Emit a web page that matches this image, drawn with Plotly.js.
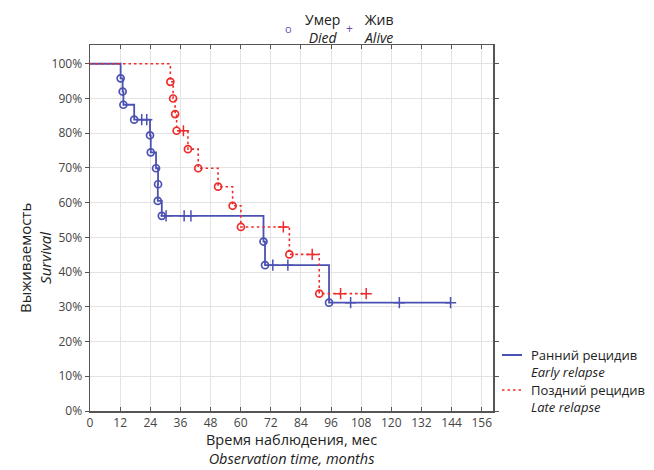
<!DOCTYPE html>
<html><head><meta charset="utf-8">
<script src="https://cdn.plot.ly/plotly-3.0.1.min.js"></script>
<style>html,body{margin:0;padding:0;background:#fff;}#plot{width:654px;height:470px;}</style>
</head><body><div id="plot"></div>
<script>
// Early relapse (blue): event times (months) and survival (%) after each event
const earlyEventT = [12.2, 13.0, 13.3, 17.6, 23.9, 24.2, 26.3, 27.1, 27.0, 28.6, 69.1, 69.7, 95.2];
const earlyEventS = [95.8, 92.0, 88.2, 83.9, 79.4, 74.5, 69.9, 65.3, 60.5, 56.2, 48.8, 42.0, 31.2];
const earlyCensT = [20.6, 22.6, 30.3, 37.5, 40.2, 72.8, 78.8, 103.8, 123.2, 143.6];
const earlyCensS = [83.9, 83.9, 56.2, 56.2, 56.2, 42.0, 42.0, 31.2, 31.2, 31.2];
const earlyEnd = 143.6;

// Late relapse (red)
const lateEventT = [32.0, 33.1, 33.9, 34.5, 39.0, 43.1, 51.0, 56.8, 60.1, 79.4, 91.3];
const lateEventS = [94.8, 90.0, 85.5, 80.7, 75.4, 69.9, 64.6, 59.1, 53.0, 45.1, 33.8];
const lateCensT = [37.2, 77.0, 88.5, 99.8, 110.0];
const lateCensS = [80.7, 53.0, 45.1, 33.8, 33.8];
const lateEnd = 110.0;

const xTicks = [0, 12, 24, 36, 48, 60, 72, 84, 96, 108, 120, 132, 144, 156];
const yTicks = [0, 10, 20, 30, 40, 50, 60, 70, 80, 90, 100];

const blue = '#4b51b3';
const red = '#ee2b2b';
const FONT = 'Open Sans, Noto Sans, sans-serif';

function stepLine(evT, evS, end) {
  const last = evS[evS.length - 1];
  return {x: [0].concat(evT, [end]), y: [100].concat(evS, [last])};
}
const eL = stepLine(earlyEventT, earlyEventS, earlyEnd);
const lL = stepLine(lateEventT, lateEventS, lateEnd);

const traces = [
  {x: eL.x, y: eL.y, mode: 'lines', line: {shape: 'hv', color: blue, width: 1.8}, hoverinfo: 'skip'},
  {x: earlyEventT, y: earlyEventS, mode: 'markers', marker: {symbol: 'circle-open', size: 7, color: blue, line: {width: 1.7, color: blue}}},
  {x: earlyCensT, y: earlyCensS, mode: 'markers', marker: {symbol: 'cross-thin-open', size: 8, color: blue, line: {width: 1.5, color: blue}}},
  {x: lL.x, y: lL.y, mode: 'lines', line: {shape: 'hv', color: red, width: 1.6, dash: '2.5px,3px'}, hoverinfo: 'skip'},
  {x: lateEventT, y: lateEventS, mode: 'markers', marker: {symbol: 'circle-open', size: 7, color: red, line: {width: 1.7, color: red}}},
  {x: lateCensT, y: lateCensS, mode: 'markers', marker: {symbol: 'cross-thin-open', size: 8, color: red, line: {width: 1.5, color: red}}}
];

// pixel -> paper helpers for annotation placement
const L = 90, R = 493, T = 45, B = 411;
const px = v => (v - L) / (R - L);
const py = v => (B - v) / (B - T);

const annFont = {family: FONT, size: 14.5, color: '#222'};
const smallFont = {family: FONT, size: 13, color: '#222'};
const annotations = [
  {text: 'Время наблюдения, мес<br><i>Observation time, months</i>', x: px(291), y: py(428), yanchor: 'top', font: annFont},
  {text: 'Выживаемость<br><i>Survival</i>', x: px(13), y: py(258), xanchor: 'left', textangle: -90, font: {family: FONT, size: 15, color: '#222'}},
  {text: 'Умер<br><i>Died</i>', x: px(303), y: py(28), xanchor: 'left', font: {family: FONT, size: 14, color: '#222'}},
  {text: 'Жив<br><i>Alive</i>', x: px(362), y: py(28), xanchor: 'left', font: {family: FONT, size: 14, color: '#222'}},
  {text: 'o', x: px(288), y: py(29), font: {family: FONT, size: 11, color: '#6a4fb5'}},
  {text: '+', x: px(349), y: py(29), font: {family: FONT, size: 12, color: '#6a4fb5'}},
  {text: 'Ранний рецидив<br><i>Early relapse</i>', x: px(529), y: py(363), xanchor: 'left', align: 'left', font: smallFont},
  {text: 'Поздний рецидив<br><i>Late relapse</i>', x: px(529), y: py(398), xanchor: 'left', align: 'left', font: smallFont}
].map(a => Object.assign({xref: 'paper', yref: 'paper', showarrow: false, xanchor: 'center', yanchor: 'middle'}, a));

const shapes = [
  {type: 'line', xref: 'paper', yref: 'paper', x0: px(502), x1: px(522), y0: py(355), y1: py(355), line: {color: blue, width: 2}},
  {type: 'line', xref: 'paper', yref: 'paper', x0: px(502), x1: px(522), y0: py(390), y1: py(390), line: {color: red, width: 1.6, dash: '2.5px,3px'}}
];

const layout = {
  width: 654, height: 470,
  margin: {l: L, r: 654 - R, t: T, b: 470 - B, pad: 0},
  paper_bgcolor: '#fff', plot_bgcolor: '#fff',
  showlegend: false,
  font: {family: FONT, size: 12, color: '#444'},
  xaxis: {
    range: [0, 160.5], tickvals: xTicks, ticktext: xTicks.map(String),
    showgrid: true, gridcolor: '#e3e3e3', gridwidth: 1, zeroline: false,
    showline: true, linecolor: '#555', linewidth: 1.5, mirror: 'ticks',
    ticks: 'inside', ticklen: 4, tickcolor: '#555',
    tickfont: {family: FONT, size: 12, color: '#444'}
  },
  yaxis: {
    range: [0, 105.4], tickvals: yTicks, ticktext: yTicks.map(v => v + '%'),
    showgrid: true, gridcolor: '#e3e3e3', gridwidth: 1, zeroline: false,
    showline: true, linecolor: '#555', linewidth: 1.5, mirror: 'ticks',
    ticks: 'outside', ticklen: 4, tickcolor: '#555',
    tickfont: {family: FONT, size: 12, color: '#444'}
  },
  annotations: annotations,
  shapes: shapes
};

Plotly.newPlot('plot', traces, layout, {displayModeBar: false, staticPlot: true});
</script>
</body></html>
